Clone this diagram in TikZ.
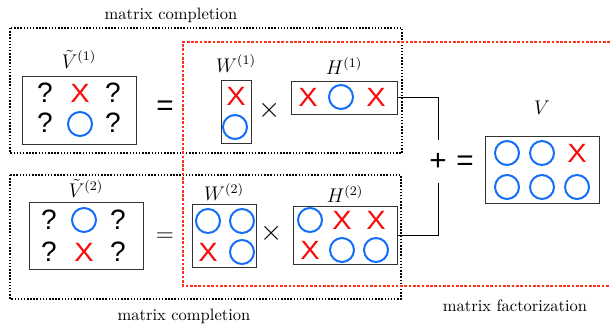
\documentclass[tikz,border=0pt]{standalone}
\usepackage{amsmath}
\usepackage{fontspec}
\newfontfamily\cellfont{Liberation Sans}
\usetikzlibrary{positioning}
\definecolor{obsblue}{RGB}{20,110,250}
\definecolor{missred}{RGB}{250,10,10}
\definecolor{factred}{RGB}{250,50,25}
\newcommand{\pu}{0.606pt}
\tikzset{
  mat/.style={draw=black!80, line width=0.6pt, inner sep=0pt},
  qm/.style={font=\cellfont\fontsize{17}{17}\selectfont, inner sep=0pt},
  crs/.style={font=\cellfont\fontsize{16}{16}\selectfont, inner sep=0pt, text=missred},
  obs/.style={circle, draw=obsblue, line width=1.2pt, minimum size=24*\pu, inner sep=0pt},
  comp/.style={draw, densely dotted, line width=0.9pt},
  fact/.style={draw=factred, densely dotted, line width=1.6pt},
  sop/.style={font=\cellfont\fontsize{18}{18}\selectfont, inner sep=0pt},
  lbl/.style={font=\large},
}

\begin{document}
\begin{tikzpicture}[x=\pu, y=-\pu]
    \useasboundingbox (0,0) rectangle (610,324);
    % completion frames and the factorization frame
    \draw[comp] (10,28) rectangle (402,153);
    \draw[comp] (10,175) rectangle (401,299);
    \draw[fact] (610,42) -| (183,286) -- (610,286);
    \node (mc1l) at (171,15) {matrix completion};
    \node (mc2l) at (184,316) {matrix completion};
    \node (mfl) at (515,306) {matrix factorization};

    % matrices
    \node[mat, minimum width=114*\pu, minimum height=68*\pu] (v1) at (79,110) {};
    \node[mat, minimum width=30*\pu, minimum height=63*\pu] (w1) at (236,111.5) {};
    \node[mat, minimum width=106*\pu, minimum height=33*\pu] (h1) at (344,97.5) {};
    \node[mat, minimum width=114*\pu, minimum height=67*\pu] (v2) at (86,235.5) {};
    \node[mat, minimum width=64*\pu, minimum height=63*\pu] (w2) at (224,235.5) {};
    \node[mat, minimum width=104*\pu, minimum height=58*\pu] (h2) at (345,235) {};
    \node[mat, minimum width=114*\pu, minimum height=67*\pu] (v) at (542,169.5) {};

    \node[lbl, above=1pt of v1] (v1l) {$\tilde{V}^{(1)}$};
    \node[lbl, above=1pt of w1] (w1l) {$W^{(1)}$};
    \node[lbl, above=0pt of h1] (h1l) {$H^{(1)}$};
    \node[lbl, above=-1pt of v2] (v2l) {$\tilde{V}^{(2)}$};
    \node[lbl, above=-2pt of w2] (w2l) {$W^{(2)}$};
    \node[lbl, above=-2pt of h2] (h2l) {$H^{(2)}$};
    \node[lbl, above=9pt of v] (vl) {$V$};

    % entries
    \foreach \x/\y [count=\i] in {45/93, 113/93, 45/123, 113/123,
                                  49/220, 118/220, 49/252, 118/252}
        \node[qm] (q\i) at (\x,\y) {?};
    \foreach \x/\y [count=\i] in {80/93, 236/96, 308/97, 376/97, 84/252,
                                  208/252, 342/220, 376/220, 310/250, 577/153}
        \node[crs] (x\i) at (\x,\y) {\scalebox{1.1}[1]{X}};
    \foreach \x/\y [count=\i] in {80/124, 235/127, 341/97, 84/220,
                                  208/221, 242/221, 242/252, 310/220, 342/250,
                                  376/250, 507/153, 542/153, 507/187, 542/187, 577/187}
        \node[obs] (o\i) at (\x,\y) {};

    % operators
    \node[sop] (eq1) at (165,108.5) {=};
    \node[font=\Large] (eq2) at (165,237.5) {$=$};
    \node[font=\fontsize{16}{16}\selectfont] (tm1) at (270,110) {$\times$};
    \node[font=\fontsize{16}{16}\selectfont] (tm2) at (272,233) {$\times$};
    \node[sop, minimum height=43*\pu] (plus) at (438,161.5) {+};
    \node[sop] (eq3) at (465,163) {=};

    \draw (h1.east) -| (plus.north);
    \draw (h2.east) -| (plus.south);
\end{tikzpicture}
\end{document}
